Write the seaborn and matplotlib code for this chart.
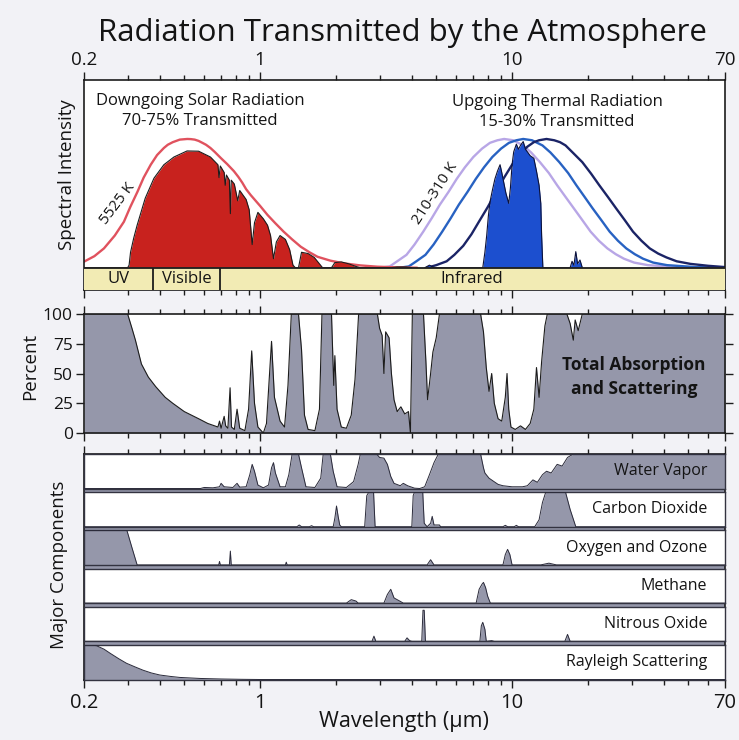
import matplotlib
matplotlib.use("Agg")
import pandas as pd
import matplotlib.pyplot as plt
import seaborn as sns
from matplotlib.ticker import FixedLocator, NullFormatter

# ---- axis ticks ----
major_ticks = [0.2, 1, 10, 70]
major_labels = ["0.2", "1", "10", "70"]
minor_ticks = [0.3, 0.4, 0.5, 0.6, 0.7, 0.8, 0.9, 2, 3, 4, 5, 6, 7, 8, 9, 20, 30, 40, 50, 60]
band_edges = [0.375, 0.69]
band_names = ["UV", "Visible", "Infrared"]
band_label_wl = [0.274, 0.51, 6.9]

# ---- top panel: blackbody curves (normalised spectral intensity) ----
sun_bb_wl = [0.2, 0.22, 0.24, 0.265, 0.288, 0.305, 0.326, 0.345, 0.368, 0.39, 0.415, 0.43, 0.45, 0.48,
             0.5, 0.514, 0.53, 0.55, 0.57, 0.59, 0.61, 0.635, 0.66, 0.7, 0.74, 0.787, 0.82, 0.85, 0.88,
             0.917, 0.96, 1.0, 1.07, 1.15, 1.24, 1.34, 1.45, 1.57, 1.69, 1.9, 2.15, 2.5, 2.92, 3.5, 4.2]
sun_bb_val = [0.047, 0.09, 0.15, 0.25, 0.357, 0.47, 0.59, 0.70, 0.80, 0.875, 0.93, 0.955, 0.975, 0.995,
              0.998, 1.0, 0.999, 0.995, 0.985, 0.97, 0.955, 0.93, 0.90, 0.85, 0.805, 0.75, 0.705, 0.66, 0.61,
              0.565, 0.52, 0.48, 0.41, 0.345, 0.28, 0.22, 0.163, 0.12, 0.085, 0.055, 0.034, 0.018, 0.008,
              0.003, 0.0]

bb_310_wl = [3.0, 3.27, 3.5, 3.81, 4.1, 4.44, 4.8, 5.17, 5.6, 6.03, 6.5, 7.02, 7.6, 8.17, 8.75, 9.3, 10.1,
             11.07, 11.9, 12.9, 14.0, 15.1, 16.3, 17.6, 19.0, 20.5, 22.1, 23.9, 25.8, 27.8, 30.5, 34.6, 45, 70]
bb_310_val = [0.0, 0.01, 0.05, 0.10, 0.18, 0.28, 0.385, 0.49, 0.59, 0.69, 0.78, 0.86, 0.925, 0.97, 0.99,
              1.0, 0.99, 0.95, 0.895, 0.82, 0.735, 0.64, 0.55, 0.46, 0.37, 0.28, 0.21, 0.15, 0.105, 0.07,
              0.04, 0.02, 0.005, 0.0]
bb_260_wl = [3.57, 3.89, 4.17, 4.53, 4.88, 5.28, 5.71, 6.15, 6.66, 7.18, 7.74, 8.35, 9.04, 9.72, 10.4,
             11.07, 12.0, 13.2, 14.2, 15.4, 16.7, 18.0, 19.4, 20.9, 22.6, 24.4, 26.3, 28.4, 30.7, 33.1,
             36.3, 41.2, 53.6, 70]
bb_260_val = [0.0, 0.01, 0.05, 0.10, 0.18, 0.28, 0.385, 0.49, 0.59, 0.69, 0.78, 0.86, 0.925, 0.97, 0.99,
              1.0, 0.99, 0.95, 0.895, 0.82, 0.735, 0.64, 0.55, 0.46, 0.37, 0.28, 0.21, 0.15, 0.105, 0.07,
              0.04, 0.02, 0.005, 0.0]
bb_210_wl = [4.6, 5.0, 5.5, 5.9, 6.4, 6.9, 7.4, 8.0, 8.6, 9.3, 10.0, 10.7, 11.5, 12.2, 12.8, 13.7, 14.7,
             15.5, 16.3, 17.5, 19.0, 20.6, 22.2, 24.0, 25.9, 28.0, 30.2, 32.6, 35.2, 38.0, 41.0, 45.0,
             51.0, 60.0, 70]
bb_210_val = [0.0, 0.02, 0.05, 0.10, 0.17, 0.26, 0.36, 0.47, 0.58, 0.70, 0.80, 0.88, 0.94, 0.975, 0.99,
              1.0, 0.99, 0.975, 0.95, 0.89, 0.82, 0.73, 0.64, 0.55, 0.46, 0.37, 0.28, 0.21, 0.15, 0.11,
              0.08, 0.05, 0.03, 0.015, 0.005]

# ---- top panel: transmitted radiation ----
solar_wl = [0.2, 0.298, 0.302, 0.306, 0.315, 0.325, 0.35, 0.379, 0.415, 0.455, 0.513, 0.57, 0.635, 0.68,
            0.687, 0.695, 0.72, 0.727, 0.735, 0.755, 0.762, 0.768, 0.79, 0.815, 0.83, 0.88, 0.905, 0.93,
            0.95, 0.98, 1.03, 1.07, 1.1, 1.13, 1.16, 1.2, 1.26, 1.31, 1.35, 1.38, 1.42, 1.46, 1.55, 1.64,
            1.72, 1.77, 1.92, 1.98, 2.1, 2.25, 2.4, 2.5, 3.3, 3.5, 3.8, 4.0]
solar_val = [0, 0, 0.02, 0.12, 0.23, 0.33, 0.54, 0.695, 0.80, 0.86, 0.907, 0.905, 0.86, 0.80,
             0.70, 0.79, 0.74, 0.64, 0.72, 0.68, 0.42, 0.68, 0.65, 0.52, 0.60, 0.53, 0.45, 0.18,
             0.35, 0.43, 0.38, 0.33, 0.25, 0.07, 0.20, 0.25, 0.22, 0.14, 0.02, 0.0, 0.0, 0.12, 0.11, 0.08,
             0.03, 0.0, 0.0, 0.04, 0.045, 0.03, 0.01, 0.0, 0.0, 0.006, 0.006, 0.0]
thermal_wl = [4.5, 4.7, 4.9, 7.65, 7.8, 7.93, 8.05, 8.17, 8.35, 8.55, 8.75, 8.96, 9.1, 9.25, 9.45, 9.7,
              9.85, 10.0, 10.15, 10.4, 10.6, 10.8, 11.07, 11.3, 11.5, 11.8, 12.2, 12.5, 12.8, 13.0, 13.1,
              13.25, 17.0, 17.3, 17.6, 17.9, 18.2, 18.6, 19.0]
thermal_val = [0, 0.02, 0, 0, 0.12, 0.25, 0.40, 0.51, 0.60, 0.69, 0.75, 0.80, 0.74, 0.67, 0.58, 0.50,
               0.62, 0.80, 0.90, 0.96, 0.92, 0.95, 0.98, 0.92, 0.90, 0.87, 0.85, 0.75, 0.64, 0.50, 0.25,
               0, 0, 0.05, 0.02, 0.125, 0.03, 0.06, 0]

# ---- middle panel: total absorption and scattering (%) ----
total_wl = [0.2, 0.298, 0.31, 0.32, 0.338, 0.36, 0.385, 0.42, 0.45, 0.5, 0.57, 0.62, 0.66, 0.68, 0.69, 0.70,
            0.72, 0.73, 0.745, 0.76, 0.77, 0.79, 0.81, 0.83, 0.87, 0.90, 0.926, 0.95, 0.98, 1.03, 1.06,
            1.11, 1.14, 1.2, 1.25, 1.29, 1.33, 1.42, 1.46, 1.5, 1.55, 1.65, 1.72, 1.76, 1.92, 1.96, 1.98,
            2.02, 2.1, 2.2, 2.3, 2.38, 2.46, 2.92, 2.98, 3.05, 3.1, 3.15, 3.25, 3.32, 3.4, 3.5, 3.62, 3.75,
            3.88, 3.95, 4.02, 4.45, 4.55, 4.62, 4.75, 4.85, 5.0, 5.15, 7.5, 7.7, 7.9, 8.1, 8.3, 8.5, 8.8,
            9.1, 9.4, 9.55, 9.7, 9.9, 10.3, 10.8, 11.3, 11.8, 12.2, 12.5, 12.8, 13.1, 13.5, 13.8, 16.5,
            17.0, 17.5, 17.8, 18.3, 19.0, 70]
total_pct = [100, 100, 88, 78, 58, 47, 39, 30, 25, 18, 12, 8, 6, 5, 10, 4,
             14, 6, 4, 38, 5, 3, 20, 4, 2, 20, 69, 25, 5, 0, 8,
             77, 30, 10, 5, 40, 100, 100, 70, 15, 3, 2, 20, 100, 100, 40, 65,
             20, 5, 4, 15, 45, 100, 100, 88, 82, 50, 85, 80, 50, 28, 18, 22, 16,
             18, 0, 100, 100, 60, 28, 50, 68, 80, 100, 100, 85, 55, 35, 50, 25, 12,
             10, 30, 50, 20, 5, 3, 6, 3, 8, 20, 55, 30, 60, 90, 100, 100,
             92, 78, 95, 86, 100, 100]

# ---- bottom panel: major components (fraction absorbed) ----
water_wl = [0.2, 0.58, 0.6, 0.65, 0.69, 0.70, 0.72, 0.78, 0.81, 0.83, 0.88, 0.91, 0.93, 0.95, 0.98, 1.03,
            1.08, 1.11, 1.13, 1.15, 1.2, 1.26, 1.3, 1.34, 1.42, 1.46, 1.52, 1.65, 1.74, 1.78, 1.9, 1.95,
            2.02, 2.2, 2.35, 2.45, 2.5, 2.9, 2.98, 3.1, 3.2, 3.3, 3.4, 3.6, 3.7, 3.85, 4.1, 4.3, 4.5, 4.7,
            4.9, 5.1, 7.5, 7.7, 7.8, 8.1, 8.4, 8.8, 9.2, 10.0, 11.0, 11.5, 12.1, 12.6, 13.2, 13.7, 14.3,
            15.1, 15.8, 16.6, 17.5, 70]
water_abs = [0, 0, 0.03, 0.02, 0.05, 0.15, 0.05, 0.03, 0.15, 0.04, 0.05, 0.4, 0.7, 0.5, 0.1, 0.02,
             0.1, 0.6, 0.75, 0.45, 0.05, 0.05, 0.4, 1.0, 1.0, 0.6, 0.05, 0.03, 0.3, 1.0, 1.0, 0.5,
             0.05, 0.03, 0.2, 0.7, 1.0, 1.0, 0.9, 0.88, 0.7, 0.35, 0.15, 0.08, 0.15, 0.08, 0.01, 0.0, 0.05, 0.4,
             0.75, 1.0, 1.0, 0.6, 0.45, 0.3, 0.22, 0.12, 0.08, 0.05, 0.05, 0.08, 0.25, 0.18, 0.4, 0.5, 0.45,
             0.7, 0.65, 0.9, 1.0, 1.0]
co2_wl = [0.2, 1.4, 1.43, 1.46, 1.57, 1.6, 1.63, 1.95, 1.98, 2.01, 2.04, 2.07, 2.1, 2.6, 2.65, 2.7, 2.82,
          2.86, 4.0, 4.05, 4.1, 4.42, 4.48, 4.6, 4.75, 4.82, 4.9, 5.15, 5.2, 9.2, 9.4, 9.6, 10.2, 10.4,
          10.6, 12.3, 12.8, 13.2, 13.6, 16.3, 17.0, 17.9, 70]
co2_abs = [0, 0, 0.05, 0, 0, 0.03, 0, 0, 0.25, 0.6, 0.3, 0.05, 0, 0, 0.9, 1.0, 1.0,
           0, 0, 0.9, 1.0, 1.0, 0.1, 0, 0.1, 0.3, 0.05, 0.05, 0, 0, 0.04, 0, 0, 0.04,
           0, 0, 0.2, 0.7, 1.0, 1.0, 0.5, 0, 0]
ozone_wl = [0.2, 0.296, 0.31, 0.325, 0.685, 0.69, 0.695, 0.755, 0.762, 0.768, 1.26, 1.27, 1.28, 4.6, 4.75,
            4.9, 9.2, 9.4, 9.6, 9.8, 10.0, 13.0, 14.0, 15.0, 70]
ozone_abs = [1.0, 1.0, 0.5, 0.0, 0, 0.1, 0, 0, 0.4, 0, 0, 0.08, 0, 0, 0.15,
             0, 0, 0.3, 0.45, 0.3, 0, 0, 0.05, 0, 0]
ch4_wl = [0.2, 2.2, 2.3, 2.4, 2.45, 3.1, 3.2, 3.3, 3.4, 3.6, 3.7, 7.2, 7.4, 7.6, 7.7, 7.85, 8.0, 8.2, 70]
ch4_abs = [0, 0, 0.1, 0.06, 0, 0, 0.25, 0.4, 0.15, 0.05, 0, 0, 0.4, 0.55, 0.6, 0.45, 0.2, 0, 0]
n2o_wl = [0.2, 2.78, 2.83, 2.88, 3.75, 3.83, 3.92, 4.0, 4.38, 4.43, 4.48, 4.53, 7.45, 7.55, 7.65, 7.8,
          7.9, 8.3, 8.5, 16.2, 16.6, 17.0, 70]
n2o_abs = [0, 0, 0.15, 0, 0, 0.1, 0.02, 0, 0, 0.9, 0.9, 0, 0, 0.45, 0.55, 0.35,
           0, 0.02, 0, 0, 0.2, 0, 0]
rayleigh_wl = [0.2, 0.215, 0.224, 0.24, 0.254, 0.275, 0.295, 0.32, 0.343, 0.37, 0.4, 0.44, 0.48, 0.58,
               0.7, 0.85, 1.0, 70]
rayleigh_abs = [1.0, 1.0, 0.98, 0.88, 0.76, 0.6, 0.47, 0.36, 0.27, 0.19, 0.13, 0.09, 0.06, 0.03,
                0.015, 0.005, 0.0, 0.0]

components = [
    ("Water Vapor", water_wl, water_abs),
    ("Carbon Dioxide", co2_wl, co2_abs),
    ("Oxygen and Ozone", ozone_wl, ozone_abs),
    ("Methane", ch4_wl, ch4_abs),
    ("Nitrous Oxide", n2o_wl, n2o_abs),
    ("Rayleigh Scattering", rayleigh_wl, rayleigh_abs),
]

# ---- colours ----
BG = "#f2f2f6"
EDGE = "#1c1c1c"
TXT = "#141414"
GRAY = "#9597aa"
SUN_RED = "#c8221e"
SUN_LINE = "#e0525e"
BLUE_FILL = "#1c4fcf"
PURPLE = "#b8a6e6"
MID_BLUE = "#2862c2"
NAVY = "#1b2466"
BAND = "#f2ebb4"

sns.set_theme(style="ticks")
plt.rcParams["font.family"] = ["Open Sans", "DejaVu Sans"]

W, H = 739, 740
fig = plt.figure(figsize=(W / 100, H / 100), dpi=100, facecolor=BG)


def px_axes(left, top, right, bottom, **kw):
    return fig.add_axes([left / W, 1 - bottom / H, (right - left) / W, (bottom - top) / H], **kw)


def wave_axis(ax, top=False, bottom=False, labeltop=False, labelbottom=False, size=13):
    ax.set_xscale("log")
    ax.set_xlim(0.2, 70)
    ax.xaxis.set_major_locator(FixedLocator(major_ticks))
    ax.xaxis.set_minor_locator(FixedLocator(minor_ticks))
    ax.set_xticklabels(major_labels)
    ax.xaxis.set_minor_formatter(NullFormatter())
    ax.tick_params(axis="x", which="both", top=top, bottom=bottom, labeltop=labeltop,
                   labelbottom=labelbottom, direction="out", color=EDGE, width=1, labelsize=size,
                   labelcolor=TXT, pad=2)
    ax.tick_params(axis="x", which="major", length=6)
    ax.tick_params(axis="x", which="minor", length=3.5)
    ax.set_xlabel("")
    ax.set_ylabel("")
    for sp in ax.spines.values():
        sp.set_visible(True)
        sp.set_color(EDGE)
        sp.set_linewidth(1.2)


def outline(ax, x, y, color=EDGE, lw=0.8, z=3):
    sns.lineplot(x=x, y=y, ax=ax, color=color, linewidth=lw, estimator=None, sort=False, zorder=z,
                 solid_joinstyle="round")


# ================= top panel =================
ax1 = px_axes(84, 80, 725, 290)
ax1.set_facecolor("white")
band_low = -0.173
ax1.set_ylim(band_low, 1.458)

outline(ax1, bb_310_wl, bb_310_val, color=PURPLE, lw=1.7, z=2)
outline(ax1, bb_260_wl, bb_260_val, color=MID_BLUE, lw=1.7, z=2)
outline(ax1, bb_210_wl, bb_210_val, color=NAVY, lw=1.7, z=2)
outline(ax1, sun_bb_wl, sun_bb_val, color=SUN_LINE, lw=1.7, z=2)

ax1.fill_between(solar_wl, solar_val, 0, color=SUN_RED, linewidth=0, zorder=3)
outline(ax1, solar_wl, solar_val, lw=0.8, z=4)
ax1.fill_between(thermal_wl, thermal_val, 0, color=BLUE_FILL, linewidth=0, zorder=3)
outline(ax1, thermal_wl, thermal_val, color="#0d1238", lw=0.8, z=4)

ax1.axhspan(band_low, 0, color=BAND, zorder=5)
ax1.axhline(0, color=EDGE, lw=1.3, zorder=6)
ax1.vlines(band_edges, band_low, 0, color=EDGE, lw=1.3, zorder=6)
for name, wl in zip(band_names, band_label_wl):
    ax1.text(wl, band_low / 2, name, ha="center", va="center", fontsize=12, zorder=7, color=TXT)

wave_axis(ax1, top=True, bottom=True, labeltop=True, size=13.5)
ax1.set_yticks([])

ax1.text(0.577, 1.295, "Downgoing Solar Radiation", ha="center", va="center", fontsize=12, color=TXT)
ax1.text(0.577, 1.14, "70-75% Transmitted", ha="center", va="center", fontsize=12, color=TXT)
ax1.text(15.1, 1.287, "Upgoing Thermal Radiation", ha="center", va="center", fontsize=12, color=TXT)
ax1.text(15.1, 1.132, "15-30% Transmitted", ha="center", va="center", fontsize=12, color=TXT)
ax1.text(0.272, 0.5, "5525 K", rotation=53, ha="center", va="center", fontsize=11, color=TXT)
ax1.text(4.95, 0.58, "210-310 K", rotation=57, ha="center", va="center", fontsize=11, color=TXT)

# ================= middle panel =================
ax2 = px_axes(84, 314, 725, 433)
ax2.set_facecolor("white")
ax2.fill_between(total_wl, total_pct, 0, color=GRAY, linewidth=0, zorder=2)
outline(ax2, total_wl, total_pct, lw=0.8)
wave_axis(ax2, top=True, bottom=True)
ax2.set_ylim(0, 100)
ax2.set_yticks([0, 25, 50, 75, 100])
ax2.tick_params(axis="y", left=True, right=True, labelleft=True, direction="out", length=6, width=1,
                color=EDGE, labelsize=12.5, labelcolor=TXT, pad=2)
ax2.text(30.5, 57, "Total Absorption", ha="center", va="center", fontsize=12.5, fontweight="bold",
         color=TXT)
ax2.text(30.5, 37, "and Scattering", ha="center", va="center", fontsize=12.5, fontweight="bold",
         color=TXT)

# ================= bottom panel =================
strip_top, strip_h, strip_gap = 454, 34.5, 3.7
holder = px_axes(84, strip_top, 725, strip_top + 6 * strip_h + 5 * strip_gap)
holder.set_facecolor(GRAY)
holder.set_xticks([])
holder.set_yticks([])
for sp in holder.spines.values():
    sp.set_color(EDGE)
    sp.set_linewidth(1.2)

for i, (name, wl, val) in enumerate(components):
    t = strip_top + i * (strip_h + strip_gap)
    ax = px_axes(84, t, 725, t + strip_h)
    ax.set_facecolor("white")
    ax.fill_between(wl, val, 0, color=GRAY, linewidth=0, zorder=2)
    outline(ax, wl, val, color="#2a2a3a", lw=0.7)
    wave_axis(ax, top=(i == 0), bottom=(i == 5), labelbottom=(i == 5), size=14.5)
    for sp in ax.spines.values():
        sp.set_linewidth(1.0)
        sp.set_color("#333340")
    ax.set_ylim(0, 1.0)
    ax.set_yticks([])
    ax.text(0.972, 0.5, name, transform=ax.transAxes, ha="right", va="center", fontsize=11.5,
            color=TXT, zorder=5)
    if i == 5:
        ax.tick_params(axis="x", which="major", pad=4)

# ================= labels =================
fig.text(402 / W, 1 - 33 / H, "Radiation Transmitted by the Atmosphere", ha="center", va="center",
         fontsize=22.5, color=TXT)
fig.text(67 / W, 1 - 175 / H, "Spectral Intensity", rotation=90, ha="center", va="center", fontsize=13.5,
         color=TXT)
fig.text(30 / W, 1 - 366 / H, "Percent", rotation=90, ha="center", va="center", fontsize=13.5,
         color=TXT)
fig.text(59 / W, 1 - 565 / H, "Major Components", rotation=90, ha="center", va="center", fontsize=13.5,
         color=TXT)
fig.text(404 / W, 1 - 722 / H, "Wavelength (\u00b5m)", ha="center", va="center", fontsize=15.5,
         color=TXT)

fig.savefig("out.png", dpi=100, facecolor=BG)
